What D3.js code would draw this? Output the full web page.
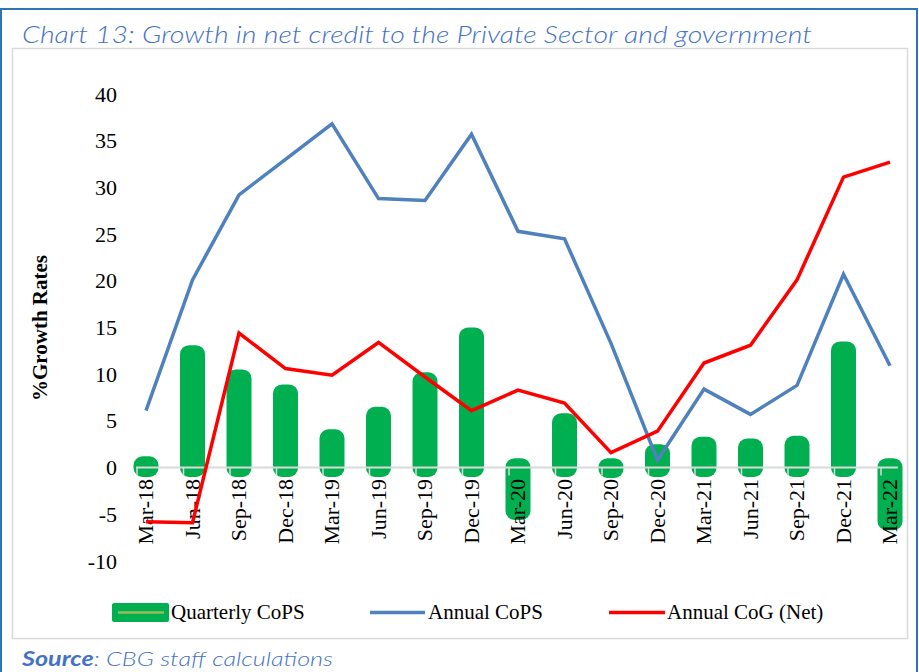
<!DOCTYPE html>
<html>
<head>
<meta charset="utf-8">
<script src="https://cdn.jsdelivr.net/npm/d3@7"></script>
<style>
  body { margin: 0; background: #fff; }
  svg { display: block; }
</style>
</head>
<body>
<svg id="chart" width="919" height="672"></svg>
<script>
// data
var quarters = ["Mar-18","Jun-18","Sep-18","Dec-18","Mar-19","Jun-19","Sep-19","Dec-19",
                "Mar-20","Jun-20","Sep-20","Dec-20","Mar-21","Jun-21","Sep-21","Dec-21","Mar-22"]
var quarterlyCoPS = [0.2, 12.1, 9.5, 7.9, 3.1, 5.5, 9.2, 14.0, -4.6, 4.8, -0.1, 1.5, 2.3, 2.1, 2.4, 12.5, -5.7]
var annualCoPS = [6.1, 20.1, 29.2, 33.0, 36.8, 28.8, 28.6, 35.7, 25.3, 24.5, 13.3, 0.8, 8.4, 5.7, 8.8, 20.7, 10.9]
var annualCoG = [-5.8, -5.9, 14.4, 10.6, 9.9, 13.4, 9.7, 6.1, 8.3, 6.9, 1.6, 3.9, 11.2, 13.1, 20.1, 31.1, 32.7]
var yTicks = [-10, -5, 0, 5, 10, 15, 20, 25, 30, 35, 40]
var legendNames = ["Quarterly CoPS", "Annual CoPS", "Annual CoG (Net)"]

var svg = d3.select("#chart")

// outer frame + chart box
svg.append("rect")
    .attr("x", 1).attr("y", 9)
    .attr("width", 916).attr("height", 680)
    .attr("fill", "none")
    .attr("stroke", "#2E75B6")
    .attr("stroke-width", 2)

svg.append("rect")
    .attr("x", 12.5).attr("y", 48.5)
    .attr("width", 895).attr("height", 590)
    .attr("fill", "#fff")
    .attr("stroke", "#D9D9D9")
    .attr("stroke-width", 1.5)

svg.append("text")
    .attr("x", 22).attr("y", 43)
    .attr("textLength", 790)
    .attr("lengthAdjust", "spacingAndGlyphs")
    .style("font-family", "Lato, 'Noto Sans', sans-serif")
    .style("font-style", "italic")
    .style("font-weight", 300)
    .style("font-size", "23px")
    .style("fill", "#4472C4")
    .text("Chart 13: Growth in net credit to the Private Sector and government")

var src = svg.append("text")
    .attr("x", 22).attr("y", 666)
    .attr("textLength", 311)
    .attr("lengthAdjust", "spacingAndGlyphs")
    .style("font-family", "Lato, 'Noto Sans', sans-serif")
    .style("font-style", "italic")
    .style("font-size", "20px")
    .style("fill", "#4472C4")
src.append("tspan").style("font-weight", "bold").text("Source")
src.append("tspan").style("font-weight", 300).text(": CBG staff calculations")

// scales
var x = d3.scalePoint().domain(quarters).range([146, 890])
var y = d3.scaleLinear().domain([-10, 40]).range([561, 94])

var font = "'Liberation Serif', 'Times New Roman', serif"

// y axis labels
var yAxis = d3.axisLeft(y).tickValues(yTicks).tickSize(0).tickPadding(0).tickFormat(d => String(d))
var gy = svg.append("g").attr("transform", "translate(117,0)").call(yAxis)
gy.select(".domain").remove()
gy.selectAll("text")
    .style("font-family", font)
    .style("font-size", "22px")
    .style("fill", "#000")

svg.append("text")
    .attr("transform", "translate(47," + 328 + ") rotate(-90)")
    .attr("text-anchor", "middle")
    .style("font-family", font)
    .style("font-weight", "bold")
    .style("font-size", "21px")
    .text("%Growth Rates")

// bars (rounded, thick outline look)
var pad = 9.4
svg.append("g").selectAll("rect")
    .data(quarterlyCoPS)
    .enter()
    .append("rect")
    .attr("x", (d, i) => x(quarters[i]) - 12.5)
    .attr("width", 25)
    .attr("y", d => Math.min(y(d), y(0)) - pad)
    .attr("height", d => Math.abs(y(d) - y(0)) + 2 * pad)
    .attr("rx", 9)
    .attr("fill", "#00B050")

// zero axis line + ticks
svg.append("line")
    .attr("x1", 136).attr("x2", 898)
    .attr("y1", y(0)).attr("y2", y(0))
    .attr("stroke", "#D9D9D9").attr("stroke-width", 2)

svg.append("g").selectAll("line")
    .data(quarters)
    .enter()
    .append("line")
    .attr("x1", d => x(d) - 9).attr("x2", d => x(d) - 9)
    .attr("y1", y(0)).attr("y2", y(0) + 8)
    .attr("stroke", "#D9D9D9").attr("stroke-width", 1.5)

// x labels, rotated
svg.append("g").selectAll("text")
    .data(quarters)
    .enter()
    .append("text")
    .attr("transform", d => "translate(" + (x(d) + 7) + "," + 479 + ") rotate(-90)")
    .attr("text-anchor", "end")
    .style("font-family", font)
    .style("font-size", "22px")
    .text(d => d)

// lines
var line = d3.line()
    .x((d, i) => x(quarters[i]))
    .y(d => y(d))

svg.append("path")
    .datum(annualCoPS)
    .attr("d", line)
    .attr("fill", "none")
    .attr("stroke", "#4F81BD")
    .attr("stroke-width", 3.5)

svg.append("path")
    .datum(annualCoG)
    .attr("d", line)
    .attr("fill", "none")
    .attr("stroke", "#FF0000")
    .attr("stroke-width", 3.5)

// legend
var lg = svg.append("g")
lg.append("rect")
    .attr("x", 112).attr("y", 603).attr("width", 57).attr("height", 19).attr("rx", 2)
    .attr("fill", "#00B050")
lg.append("line")
    .attr("x1", 118).attr("x2", 164).attr("y1", 612.5).attr("y2", 612.5)
    .attr("stroke", "#9BBB59").attr("stroke-width", 2.5)
lg.append("line")
    .attr("x1", 370).attr("x2", 425).attr("y1", 612.5).attr("y2", 612.5)
    .attr("stroke", "#4F81BD").attr("stroke-width", 3.5)
lg.append("line")
    .attr("x1", 609).attr("x2", 665).attr("y1", 612.5).attr("y2", 612.5)
    .attr("stroke", "#FF0000").attr("stroke-width", 3.5)

var legendX = [171, 428, 667]
lg.selectAll("text")
    .data(legendNames)
    .enter()
    .append("text")
    .attr("x", (d, i) => legendX[i])
    .attr("y", 619)
    .style("font-family", font)
    .style("font-size", "21px")
    .text(d => d)
</script>
</body>
</html>
